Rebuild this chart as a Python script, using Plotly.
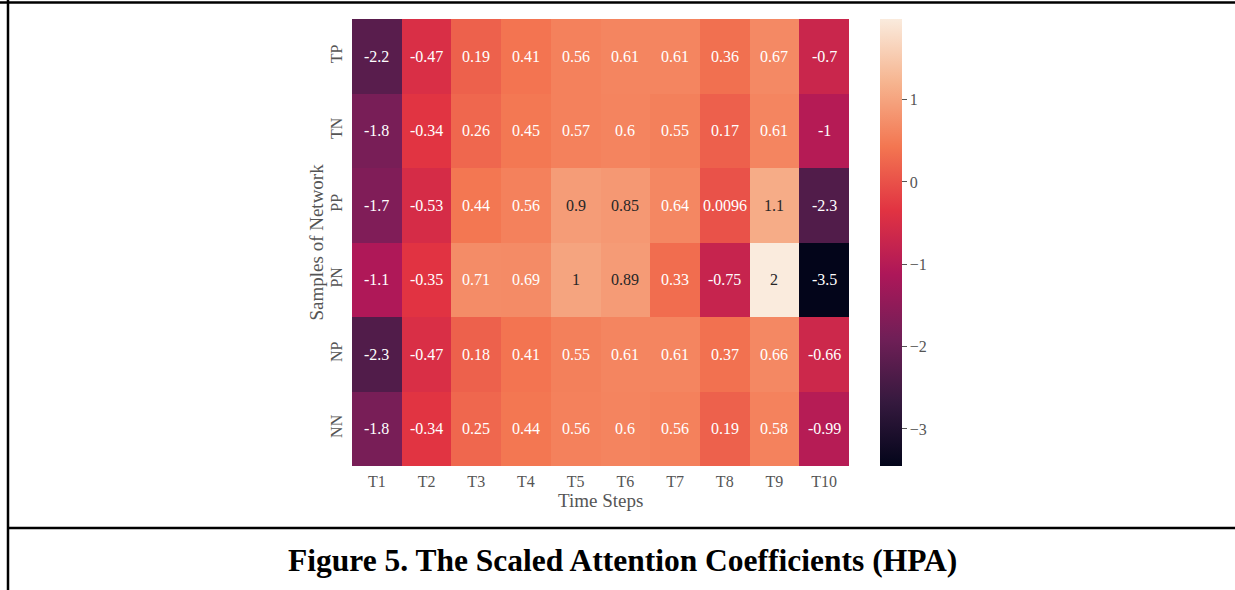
import plotly.graph_objects as go

# ---- data ----
time_steps = ["T1", "T2", "T3", "T4", "T5", "T6", "T7", "T8", "T9", "T10"]
samples = ["TP", "TN", "PP", "PN", "NP", "NN"]

row_TP = [-2.2, -0.47, 0.19, 0.41, 0.56, 0.61, 0.61, 0.36, 0.67, -0.7]
row_TN = [-1.8, -0.34, 0.26, 0.45, 0.57, 0.6, 0.55, 0.17, 0.61, -1]
row_PP = [-1.7, -0.53, 0.44, 0.56, 0.9, 0.85, 0.64, 0.0096, 1.1, -2.3]
row_PN = [-1.1, -0.35, 0.71, 0.69, 1, 0.89, 0.33, -0.75, 2, -3.5]
row_NP = [-2.3, -0.47, 0.18, 0.41, 0.55, 0.61, 0.61, 0.37, 0.66, -0.66]
row_NN = [-1.8, -0.34, 0.25, 0.44, 0.56, 0.6, 0.56, 0.19, 0.58, -0.99]
values = [row_TP, row_TN, row_PP, row_PN, row_NP, row_NN]

cbar_ticks = [-3, -2, -1, 0, 1]
x_title = "Time Steps"
y_title = "Samples of Network"
caption = "Figure 5. The Scaled Attention Coefficients (HPA)"

# seaborn "rocket" colormap approximation
rocket = [
    [0.0, "#03051a"],
    [1 / 7, "#35193e"],
    [2 / 7, "#701f57"],
    [3 / 7, "#ad1759"],
    [4 / 7, "#e13342"],
    [5 / 7, "#f37651"],
    [6 / 7, "#f6b48f"],
    [1.0, "#faebdd"],
]

W, H = 1235, 590
hm_l, hm_r, hm_t, hm_b = 352, 849, 19, 466
SERIF = "Liberation Serif, Times New Roman, serif"
GRAY = "#555555"


def px(x):
    return x / W


def py(y):
    return 1 - y / H


fig = go.Figure()
fig.add_trace(
    go.Heatmap(
        z=values,
        x=time_steps,
        y=samples,
        colorscale=rocket,
        zmin=-3.45,
        zmax=1.98,
        hoverinfo="skip",
        colorbar=dict(
            thicknessmode="pixels",
            thickness=22,
            lenmode="pixels",
            len=hm_b - hm_t,
            x=px(880),
            xanchor="left",
            y=py(hm_t),
            yanchor="top",
            xpad=0,
            ypad=0,
            outlinewidth=0,
            ticks="outside",
            ticklen=5,
            tickwidth=1,
            tickcolor=GRAY,
            tickvals=cbar_ticks,
            ticktext=[("\u2212" + str(-v)) if v < 0 else str(v) for v in cbar_ticks],
            tickfont=dict(family=SERIF, size=16, color=GRAY),
        ),
    )
)

annotations = []
for r, name in enumerate(samples):
    for c, ts in enumerate(time_steps):
        v = values[r][c]
        annotations.append(
            dict(
                x=ts,
                y=name,
                xref="x",
                yref="y",
                text=f"{v:g}",
                showarrow=False,
                font=dict(family=SERIF, size=16, color="#262626" if v >= 0.8 else "#ffffff"),
            )
        )

annotations.append(
    dict(
        x=px((hm_l + hm_r) / 2),
        y=py(500.5),
        xref="paper",
        yref="paper",
        text=x_title,
        showarrow=False,
        font=dict(family=SERIF, size=19, color=GRAY),
        xanchor="center",
        yanchor="middle",
    )
)
annotations.append(
    dict(
        x=px(316),
        y=py((hm_t + hm_b) / 2),
        xref="paper",
        yref="paper",
        text=y_title,
        textangle=-90,
        showarrow=False,
        font=dict(family=SERIF, size=19, color=GRAY),
        xanchor="center",
        yanchor="middle",
    )
)
annotations.append(
    dict(
        x=px(622),
        y=py(560),
        xref="paper",
        yref="paper",
        text="<b>" + caption + "</b>",
        showarrow=False,
        font=dict(family=SERIF, size=31.5, color="#000000"),
        xanchor="center",
        yanchor="middle",
    )
)

shapes = [
    dict(type="line", xref="paper", yref="paper", x0=0, x1=1, y0=py(2.5), y1=py(2.5),
         line=dict(color="#000000", width=2.5)),
    dict(type="line", xref="paper", yref="paper", x0=px(8), x1=px(8), y0=0, y1=1,
         line=dict(color="#000000", width=2.5)),
    dict(type="line", xref="paper", yref="paper", x0=px(8), x1=1, y0=py(528), y1=py(528),
         line=dict(color="#000000", width=2.5)),
]

fig.update_layout(
    width=W,
    height=H,
    margin=dict(l=0, r=0, t=0, b=0),
    paper_bgcolor="white",
    plot_bgcolor="white",
    annotations=annotations,
    shapes=shapes,
    xaxis=dict(
        domain=[px(hm_l), px(hm_r)],
        showgrid=False,
        zeroline=False,
        showline=False,
        ticks="",
        ticklabelstandoff=4,
        tickfont=dict(family=SERIF, size=16, color=GRAY),
    ),
    yaxis=dict(
        domain=[py(hm_b), py(hm_t)],
        autorange="reversed",
        showgrid=False,
        zeroline=False,
        showline=False,
        ticks="",
        tickangle=-90,
        ticklabelstandoff=6,
        tickfont=dict(family=SERIF, size=16, color=GRAY),
    ),
)

fig.write_html("out.html")
